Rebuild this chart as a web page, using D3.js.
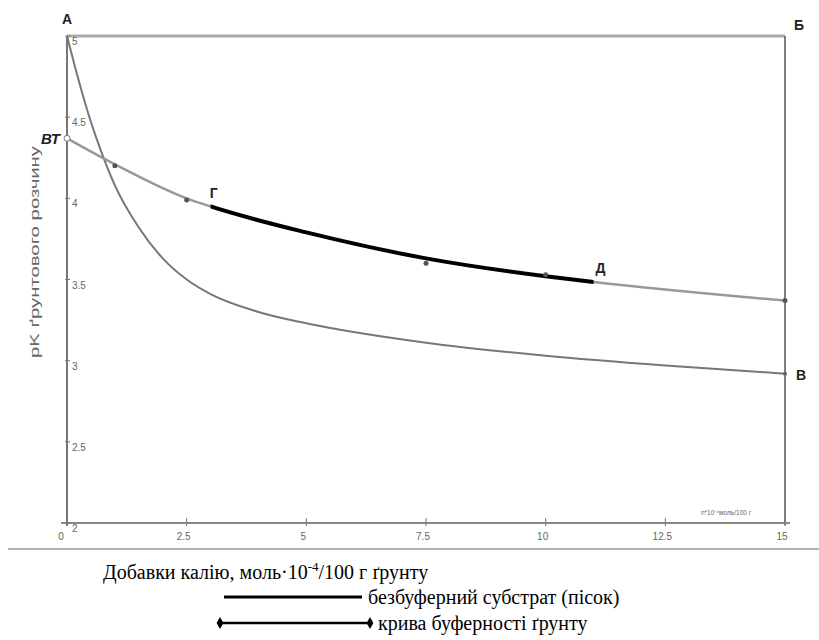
<!DOCTYPE html>
<html>
<head>
<meta charset="utf-8">
<script src="https://d3js.org/d3.v7.min.js"></script>
<style>
  body { margin: 0; background: #fff; }
  svg { display: block; }
</style>
</head>
<body>
<div id="chart"></div>
<script>
// крива буферності ґрунту (pK vs добавки калію)
const soilX = [0, 1, 2.5, 3, 5, 7.5, 10, 11, 15];
const soilPK = [4.37, 4.21, 4.0, 3.95, 3.79, 3.63, 3.52, 3.485, 3.37];
// точки на кривій
const markX = [1, 2.5, 7.5, 10, 15];
const markPK = [4.2, 3.99, 3.6, 3.53, 3.37];
// безбуферний субстрат (пісок)
const sandX = [0, 0.25, 0.5, 0.75, 1, 1.5, 2, 2.5, 3, 4, 5, 7.5, 10, 12.5, 15];
const sandPK = [5.0, 4.72, 4.47, 4.26, 4.08, 3.82, 3.63, 3.5, 3.41, 3.3, 3.23, 3.11, 3.03, 2.97, 2.92];
// чорний відрізок Г–Д
const segFrom = 3, segTo = 11;
const xTicks = [0, 2.5, 5, 7.5, 10, 12.5, 15];
const yTicks = [2, 2.5, 3, 3.5, 4, 4.5, 5];

const W = 819, H = 640;
const sans = "'Liberation Sans', Arial, sans-serif";
const serif = "'Liberation Serif', 'Times New Roman', 'DejaVu Serif', serif";

const svg = d3.select('#chart').append('svg')
  .attr('width', W).attr('height', H);

const x = d3.scaleLinear().domain([0, 15]).range([67, 785]);
const y = d3.scaleLinear().domain([2, 5]).range([523, 36]);

// рамка: верхня лінія А–Б, права вертикаль
svg.append('line')
  .attr('x1', x(0)).attr('x2', x(15)).attr('y1', y(5)).attr('y2', y(5))
  .attr('stroke', '#aaa').attr('stroke-width', 3);
svg.append('line')
  .attr('x1', x(15)).attr('x2', x(15)).attr('y1', y(5)).attr('y2', y(2) + 2)
  .attr('stroke', '#555').attr('stroke-width', 1.5);

// осі
svg.append('line')
  .attr('x1', x(0) - 6).attr('x2', x(15) + 5).attr('y1', y(2)).attr('y2', y(2))
  .attr('stroke', '#888').attr('stroke-width', 2);
svg.append('line')
  .attr('x1', x(0)).attr('x2', x(0)).attr('y1', y(5)).attr('y2', y(2) + 3)
  .attr('stroke', '#777').attr('stroke-width', 2);

// тики та підписи по x
xTicks.forEach(t => {
  if (t > 0) {
    svg.append('line')
      .attr('x1', x(t)).attr('x2', x(t)).attr('y1', y(2) - 5).attr('y2', y(2) + 3)
      .attr('stroke', '#777').attr('stroke-width', 1);
  }
  svg.append('text')
    .attr('x', t === 0 ? x(t) - 6 : x(t) - 3)
    .attr('y', y(2) + 17)
    .attr('text-anchor', 'middle')
    .style('font-family', sans)
    .style('font-size', '10px')
    .attr('fill', '#666')
    .text(t);
});

// тики та підписи по y
yTicks.forEach(t => {
  svg.append('line')
    .attr('x1', x(0) - 2).attr('x2', x(0) + 3).attr('y1', y(t)).attr('y2', y(t))
    .attr('stroke', '#777').attr('stroke-width', 1);
  svg.append('text')
    .attr('x', x(0) + 5)
    .attr('y', y(t) + 9)
    .style('font-family', sans)
    .style('font-size', '10px')
    .attr('fill', '#666')
    .text(t);
});

// підпис осі y
svg.append('text')
  .attr('transform', `translate(39, 252) rotate(-90)`)
  .attr('text-anchor', 'middle')
  .attr('textLength', 212)
  .attr('lengthAdjust', 'spacingAndGlyphs')
  .style('font-family', sans)
  .style('font-size', '13px')
  .attr('fill', '#666')
  .text('pK ґрунтового розчину');

// підпис одиниць по x
svg.append('text')
  .attr('x', 726).attr('y', 515)
  .attr('text-anchor', 'middle')
  .style('font-family', sans)
  .style('font-size', '6.5px')
  .attr('fill', '#666')
  .text('n*10⁻⁴моль/100 г');

const line = d3.line()
  .x(d => x(d[0]))
  .y(d => y(d[1]))
  .curve(d3.curveMonotoneX);

const soil = soilX.map((v, i) => [v, soilPK[i]]);
const sand = sandX.map((v, i) => [v, sandPK[i]]);

svg.append('path')
  .attr('d', line(sand))
  .attr('fill', 'none')
  .attr('stroke', '#777')
  .attr('stroke-width', 2);

svg.append('path')
  .attr('d', line(soil))
  .attr('fill', 'none')
  .attr('stroke', '#999')
  .attr('stroke-width', 2.5);

// чорний відрізок Г–Д, обрізаний по x
svg.append('clipPath').attr('id', 'seg')
  .append('rect')
  .attr('x', x(segFrom)).attr('width', x(segTo) - x(segFrom))
  .attr('y', 0).attr('height', H);

svg.append('path')
  .attr('d', line(soil))
  .attr('clip-path', 'url(#seg)')
  .attr('fill', 'none')
  .attr('stroke', '#000')
  .attr('stroke-width', 4);

// маркери
svg.selectAll('.mk')
  .data(markX.map((v, i) => [v, markPK[i]]))
  .enter()
  .append('circle')
  .attr('class', 'mk')
  .attr('cx', d => x(d[0]))
  .attr('cy', d => y(d[1]))
  .attr('r', 2.5)
  .attr('fill', '#555');

svg.append('circle')
  .attr('cx', x(0)).attr('cy', y(soilPK[0]))
  .attr('r', 3)
  .attr('fill', '#fff').attr('stroke', '#777').attr('stroke-width', 1);
svg.append('circle')
  .attr('cx', x(15)).attr('cy', y(sandPK[sandPK.length - 1]))
  .attr('r', 2)
  .attr('fill', '#666');

// літери
const letters = [
  { t: 'А', px: x(0), py: y(5) - 12, anchor: 'middle', style: 'normal', size: 14 },
  { t: 'Б', px: x(15) + 14, py: y(5) - 6, anchor: 'middle', style: 'normal', size: 14 },
  { t: 'ВТ', px: x(0) - 7, py: y(soilPK[0]) + 6, anchor: 'end', style: 'italic', size: 15 },
  { t: 'Г', px: x(3) + 3, py: y(3.95) - 8, anchor: 'middle', style: 'normal', size: 14 },
  { t: 'Д', px: x(11) + 7, py: y(3.485) - 9, anchor: 'middle', style: 'normal', size: 14 },
  { t: 'В', px: x(15) + 16, py: y(2.92) + 6, anchor: 'middle', style: 'normal', size: 14 }
];
letters.forEach(l => {
  svg.append('text')
    .attr('x', l.px).attr('y', l.py)
    .attr('text-anchor', l.anchor)
    .style('font-family', sans)
    .style('font-size', l.size + 'px')
    .style('font-weight', 'bold')
    .style('font-style', l.style)
    .attr('fill', '#222')
    .text(l.t);
});

// розділювальна лінія
svg.append('line')
  .attr('x1', 8).attr('x2', W).attr('y1', 549).attr('y2', 549)
  .attr('stroke', '#999').attr('stroke-width', 1.5);

// підпис під графіком
const cap = svg.append('text')
  .attr('x', 103).attr('y', 579)
  .style('font-family', serif)
  .style('font-size', '20px')
  .attr('fill', '#000');
cap.append('tspan').text('Добавки калію, моль·10');
cap.append('tspan').attr('dy', -8).style('font-size', '13px').text('-4');
cap.append('tspan').attr('dy', 8).text('/100 г ґрунту');

// легенда
svg.append('line')
  .attr('x1', 224).attr('x2', 362).attr('y1', 597).attr('y2', 597)
  .attr('stroke', '#000').attr('stroke-width', 3);
svg.append('text')
  .attr('x', 368).attr('y', 604)
  .style('font-family', serif)
  .style('font-size', '20px')
  .text('безбуферний субстрат (пісок)');

svg.append('line')
  .attr('x1', 220).attr('x2', 370).attr('y1', 623).attr('y2', 623)
  .attr('stroke', '#000').attr('stroke-width', 2.5);
[220, 370].forEach(px => {
  svg.append('path')
    .attr('d', d3.symbol().type(d3.symbolDiamond).size(40)())
    .attr('transform', `translate(${px},623)`)
    .attr('fill', '#000');
});
svg.append('text')
  .attr('x', 378).attr('y', 630)
  .style('font-family', serif)
  .style('font-size', '20px')
  .text('крива буферності ґрунту');
</script>
</body>
</html>
